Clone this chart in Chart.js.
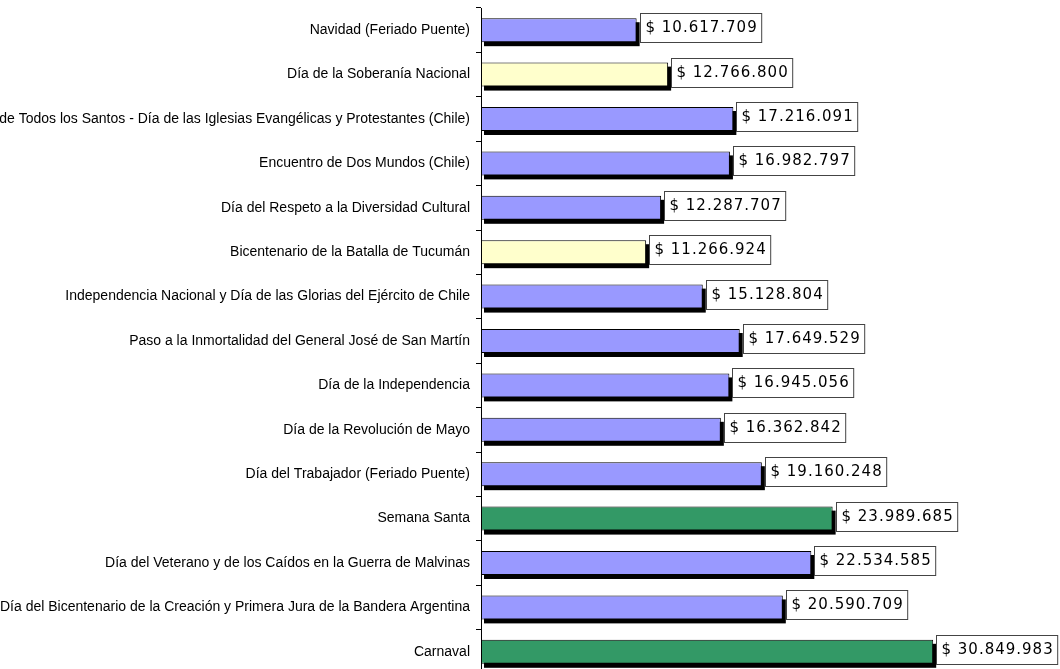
<!DOCTYPE html>
<html>
<head>
<meta charset="utf-8">
<script src="https://cdn.jsdelivr.net/npm/chart.js@4/dist/chart.umd.min.js"></script>
<style>
  html, body { margin: 0; padding: 0; background: #fff; overflow: hidden; }
  #wrap { position: relative; width: 1060px; height: 676px; }
</style>
</head>
<body>
<div id="wrap"><canvas id="chart"></canvas></div>
<script>
const labels = [
    'Navidad (Feriado Puente)',
    'Día de la Soberanía Nacional',
    'Día de Todos los Santos - Día de las Iglesias Evangélicas y Protestantes (Chile)',
    'Encuentro de Dos Mundos (Chile)',
    'Día del Respeto a la Diversidad Cultural',
    'Bicentenario de la Batalla de Tucumán',
    'Independencia Nacional y Día de las Glorias del Ejército de Chile',
    'Paso a la Inmortalidad del General José de San Martín',
    'Día de la Independencia',
    'Día de la Revolución de Mayo',
    'Día del Trabajador (Feriado Puente)',
    'Semana Santa',
    'Día del Veterano y de los Caídos en la Guerra de Malvinas',
    'Día del Bicentenario de la Creación y Primera Jura de la Bandera Argentina',
    'Carnaval'
];
const values = [10617709, 12766800, 17216091, 16982797, 12287707, 11266924, 15128804,
    17649529, 16945056, 16362842, 19160248, 23989685, 22534585, 20590709, 30849983];
const kinds = ['b', 'y', 'b', 'b', 'b', 'y', 'b', 'b', 'b', 'b', 'b', 'g', 'b', 'b', 'g'];

const KIND_COLORS = { b: '#9999FF', y: '#FFFFCC', g: '#339966' };

const fmt = v => '$ ' + v.toString().replace(/\B(?=(\d{3})+(?!\d))/g, '.');

// black drop shadow under each bar
const shadowPlugin = {
    id: 'barShadow',
    beforeDatasetsDraw(chart) {
        const ctx = chart.ctx;
        const meta = chart.getDatasetMeta(0);
        ctx.save();
        ctx.fillStyle = '#000';
        meta.data.forEach(bar => {
            const h = bar.height;
            ctx.fillRect(bar.base + 3, bar.y - h / 2 + 4, bar.x - bar.base, h);
        });
        ctx.restore();
    }
};

// boxed value labels to the right of each bar
const valueBoxes = {
    id: 'valueBoxes',
    afterDatasetsDraw(chart) {
        const ctx = chart.ctx;
        const meta = chart.getDatasetMeta(0);
        ctx.save();
        ctx.font = '15px "DejaVu Sans"';
        ctx.letterSpacing = '1px';
        ctx.textBaseline = 'middle';
        ctx.textAlign = 'left';
        meta.data.forEach((bar, i) => {
            const txt = fmt(values[i]);
            const w = ctx.measureText(txt).width + 9;
            const x = Math.round(bar.x) + 3.5;
            const y = Math.round(bar.y) - 16.5;
            ctx.fillStyle = '#fff';
            ctx.fillRect(x, y, w, 29);
            ctx.strokeStyle = '#444';
            ctx.lineWidth = 1;
            ctx.strokeRect(x, y, w, 29);
            ctx.fillStyle = '#000';
            ctx.fillText(txt, x + 5, y + 15);
        });
        ctx.restore();
    }
};

new Chart(document.getElementById('chart'), {
    type: 'bar',
    data: {
        labels: labels,
        datasets: [{
            data: values,
            backgroundColor: kinds.map(k => KIND_COLORS[k]),
            borderColor: '#000',
            borderWidth: 1,
            borderSkipped: false,
            barPercentage: 0.54,
            categoryPercentage: 1
        }]
    },
    options: {
        indexAxis: 'y',
        responsive: true,
        maintainAspectRatio: false,
        animation: false,
        layout: { padding: { top: 8, right: 22, bottom: 2, left: 0 } },
        plugins: { legend: { display: false }, tooltip: { enabled: false } },
        scales: {
            x: { display: false, min: 0, max: 38000000 },
            y: {
                afterFit(scale) {
                    scale.width = 481;
                    scale.paddingTop = 0;
                    scale.paddingBottom = 0;
                },
                grid: { drawOnChartArea: false, drawTicks: true, tickLength: 5, color: '#000', offset: true },
                border: { display: true, color: '#000' },
                ticks: { color: '#000', padding: 6, autoSkip: false, font: { family: 'Liberation Sans, Arial', size: 14 } }
            }
        }
    },
    plugins: [shadowPlugin, valueBoxes]
});
</script>
</body>
</html>
